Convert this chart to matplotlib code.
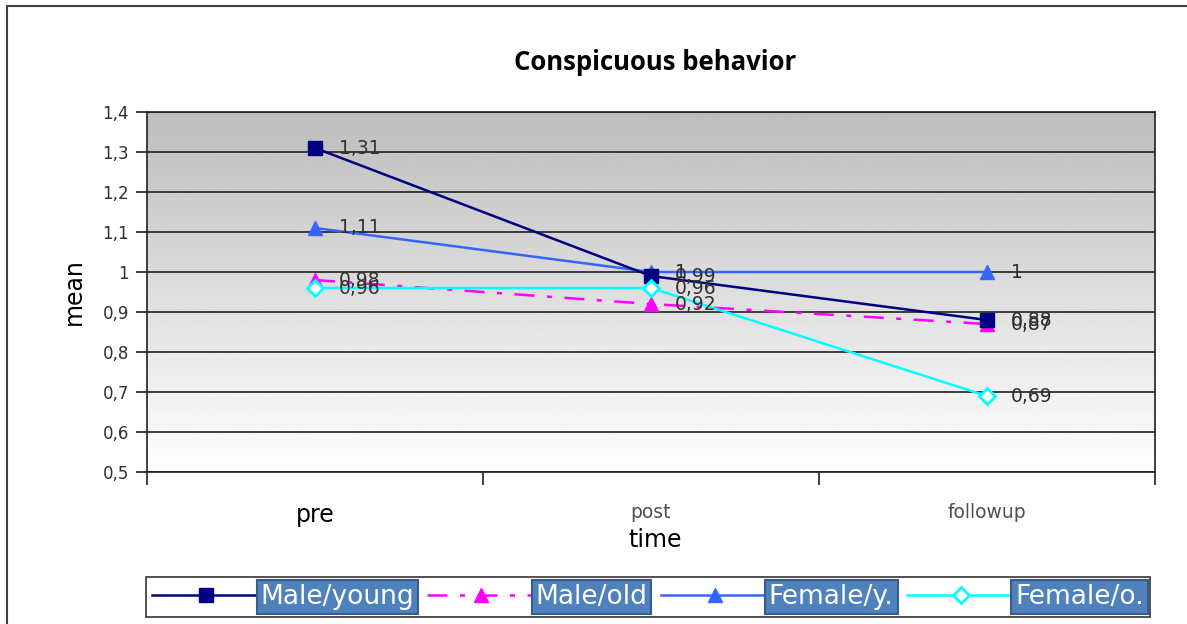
import numpy as np
import matplotlib
matplotlib.use('Agg')
from matplotlib import pyplot as plt
from matplotlib.patches import Rectangle

# mean scores per measurement time
times = ['pre', 'post', 'followup']
male_young = [1.31, 0.99, 0.88]
male_old = [0.98, 0.92, 0.87]
female_y = [1.11, 1.00, 1.00]
female_o = [0.96, 0.96, 0.69]
yticks = [0.5, 0.6, 0.7, 0.8, 0.9, 1.0, 1.1, 1.2, 1.3, 1.4]

sans = ['DejaVu Sans']


def fmt(v):
    return ('%g' % v).replace('.', ',')


def fmt2(v):
    if v == 1.0:
        return '1'
    return ('%.2f' % v).replace('.', ',')


fig = plt.figure(figsize=(11.87, 6.24), dpi=100)
fig.patches.append(Rectangle((7 / 1187, -0.1), 1.2, 1.1 - 6 / 624, transform=fig.transFigure,
                             fill=False, edgecolor='#404040', linewidth=1.5))

ax = fig.add_axes([147 / 1187, 152 / 624, 1008 / 1187, 360 / 624])
x = np.arange(len(times))

# grey at the top fading to white at the bottom
ax.imshow(np.linspace(0.74, 1.0, 256).reshape(-1, 1), cmap='gray', vmin=0, vmax=1,
          extent=[0, 1, 0, 1], origin='upper', transform=ax.transAxes,
          aspect='auto', zorder=0)

ax.set_xlim(-0.5, 2.5)
ax.set_ylim(0.5, 1.4)
ax.set_yticks(yticks)
ax.set_yticklabels([fmt(v) for v in yticks], family=sans, fontsize=12, color='#303030')
ax.yaxis.grid(True, color='#202020', linewidth=1.2)
ax.set_axisbelow(True)
ax.tick_params(axis='y', direction='out', length=8, width=1.2, color='#202020', pad=5)

ax.set_xticks([-0.5, 0.5, 1.5, 2.5])
ax.set_xticklabels([])
ax.set_xticks(x, minor=True)
ax.set_xticklabels(times, minor=True)
ax.tick_params(axis='x', which='major', direction='out', length=9, width=1.2, color='#202020')
ax.tick_params(axis='x', which='minor', length=0, pad=22)
lbls = ax.get_xticklabels(minor=True)
lbls[0].set_fontsize(17)
lbls[0].set_color('black')
for t in lbls[1:]:
    t.set_fontsize(13.5)
    t.set_color('#505050')

for sp in ax.spines.values():
    sp.set_color('#202020')
    sp.set_linewidth(1.2)

l1, = ax.plot(x, male_young, color='#000080', marker='s', markersize=10, linewidth=1.8,
              label='Male/young', zorder=5)
l2, = ax.plot(x, male_old, color='#ff00ff', marker='^', markersize=10, linewidth=1.8,
              dashes=(8, 5, 2, 5), label='Male/old', zorder=4)
l3, = ax.plot(x, female_y, color='#3366ff', marker='^', markersize=10, linewidth=1.8,
              label='Female/y.', zorder=3)
l4, = ax.plot(x, female_o, color='#00ffff', marker='D', markersize=8, markerfacecolor='white',
              markeredgewidth=2, linewidth=1.8, label='Female/o.', zorder=6)

# value labels to the right of every point
for ser in [male_young, male_old, female_y, female_o]:
    for xi, v in zip(x, ser):
        ax.annotate(fmt2(v), (xi, v), xytext=(17, 0), textcoords='offset points',
                    va='center', ha='left', fontsize=13.5, color='#303030', family=sans,
                    zorder=7)

fig.text(655 / 1187, 1 - 62 / 624, 'Conspicuous behavior', ha='center', va='center',
         fontsize=18.5, fontweight='bold', family=['Open Sans', 'DejaVu Sans'])
ax.set_ylabel('mean', fontsize=17, labelpad=12)
fig.text(655 / 1187, 1 - 540 / 624, 'time', ha='center', va='center', fontsize=17)

leg = fig.legend(handles=[l1, l2, l3, l4], loc='center', ncol=4,
                 bbox_to_anchor=(648 / 1187, 1 - 597 / 624), frameon=True, fancybox=False,
                 edgecolor='black', handlelength=4.1, columnspacing=0.5, handletextpad=0.0,
                 borderpad=0.25, borderaxespad=0, fontsize=19)
leg.get_frame().set_linewidth(1.2)
for t in leg.get_texts():
    t.set_color('white')
    t.set_bbox(dict(facecolor='#4f81bd', edgecolor='#385d8a', linewidth=1.5,
                    boxstyle='square,pad=0.15'))

fig.savefig('out.png', dpi=100)
